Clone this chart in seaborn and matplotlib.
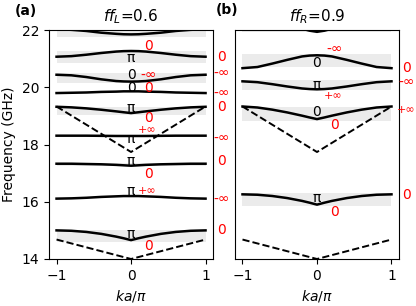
import numpy as np
import matplotlib
matplotlib.use("Agg")
import matplotlib.pyplot as plt
import seaborn as sns

# wave vector samples (ka/pi)
k = [-1, -0.8, -0.6, -0.4, -0.2, -0.1, 0, 0.1, 0.2, 0.4, 0.6, 0.8, 1]

# panel (a), ff_L = 0.6 : band frequencies in GHz
bands_L = [
    [22.03, 22.01, 21.97, 21.91, 21.87, 21.855, 21.85, 21.855, 21.87, 21.91, 21.97, 22.01, 22.03],
    [21.07, 21.09, 21.14, 21.20, 21.25, 21.265, 21.27, 21.265, 21.25, 21.20, 21.14, 21.09, 21.07],
    [20.44, 20.42, 20.36, 20.28, 20.22, 20.206, 20.20, 20.206, 20.22, 20.28, 20.36, 20.42, 20.44],
    [19.80, 19.81, 19.82, 19.84, 19.85, 19.86, 19.86, 19.86, 19.85, 19.84, 19.82, 19.81, 19.80],
    [19.32, 19.30, 19.265, 19.217, 19.16, 19.129, 19.10, 19.129, 19.16, 19.217, 19.265, 19.30, 19.32],
    [18.31, 18.31, 18.31, 18.305, 18.30, 18.30, 18.30, 18.30, 18.30, 18.305, 18.31, 18.31, 18.31],
    [17.33, 17.33, 17.32, 17.31, 17.29, 17.275, 17.26, 17.275, 17.29, 17.31, 17.32, 17.33, 17.33],
    [16.11, 16.12, 16.14, 16.17, 16.19, 16.20, 16.20, 16.20, 16.19, 16.17, 16.14, 16.12, 16.11],
    [15.00, 14.986, 14.946, 14.878, 14.782, 14.725, 14.66, 14.725, 14.782, 14.878, 14.946, 14.986, 15.00],
]
gaps_L = [(21.77, 22.2), (20.85, 21.28), (20.14, 20.49), (19.04, 19.33), (17.25, 17.34), (14.60, 15.03)]

# panel (b), ff_R = 0.9
bands_R = [
    [22.40, 22.35, 22.25, 22.15, 22.05, 21.98, 21.94, 21.98, 22.05, 22.15, 22.25, 22.35, 22.40],
    [20.67, 20.71, 20.83, 20.96, 21.08, 21.11, 21.12, 21.11, 21.08, 20.96, 20.83, 20.71, 20.67],
    [20.21, 20.18, 20.11, 20.03, 19.96, 19.94, 19.93, 19.94, 19.96, 20.03, 20.11, 20.18, 20.21],
    [19.33, 19.295, 19.22, 19.123, 19.009, 18.947, 18.89, 18.947, 19.009, 19.123, 19.22, 19.295, 19.33],
    [16.26, 16.246, 16.202, 16.13, 16.03, 15.968, 15.90, 15.968, 16.03, 16.13, 16.202, 16.246, 16.26],
]
gaps_R = [(21.93, 22.3), (20.72, 21.15), (19.89, 20.26), (18.83, 19.33), (15.85, 16.29)]

# folded light lines
k_light = [-1, 0, 1]
light_upper = [19.33, 17.74, 19.33]
light_lower = [14.68, 14.0, 14.68]

# band-edge symbols: (ka/pi, GHz, text)
sym_L = [(0, 21.02, "π"), (0, 20.43, "0"), (0, 19.99, "0"), (0, 19.29, "π"),
         (0, 18.19, "π"), (0, 17.41, "π"), (0, 16.39, "π"), (0, 14.88, "π")]
red_L = [(0.23, 21.45, "0"), (0.23, 20.43, "-∞"), (0.24, 19.97, "0"), (0.24, 18.93, "0"),
         (0.21, 18.50, "+∞"), (0.24, 16.98, "0"), (0.21, 16.39, "+∞"), (0.23, 14.47, "0")]
edge_L = [(1.21, 21.07, "0"), (1.21, 20.51, "-∞"), (1.21, 19.82, "-∞"), (1.21, 19.33, "0"),
          (1.21, 18.24, "-∞"), (1.21, 17.41, "0"), (1.21, 16.10, "-∞"), (1.21, 15.03, "0")]

sym_R = [(0, 20.86, "0"), (0, 20.08, "π"), (0, 19.13, "0"), (0, 16.13, "π")]
red_R = [(0.23, 21.33, "-∞"), (0.21, 19.70, "+∞"), (0.23, 18.67, "0"), (0.23, 15.65, "0")]
edge_R = [(1.2, 20.67, "0"), (1.2, 20.20, "-∞"), (1.2, 19.21, "+∞"), (1.2, 16.25, "0")]

plt.rcParams["font.family"] = ["DejaVu Sans"]
plt.rcParams["mathtext.fontset"] = "dejavusans"

fig = plt.figure(figsize=(4.16, 3.06), dpi=100)
ax1 = fig.add_axes([0.118, 0.1536, 0.394, 0.748])
ax2 = fig.add_axes([0.565, 0.1536, 0.394, 0.748])


def draw(ax, bands, gaps, syms, reds, edges, title):
    for lo, hi in gaps:
        ax.fill_between([-1, 1], lo, hi, color="#ebebeb", lw=0, zorder=0)
    for b in bands:
        sns.lineplot(x=k, y=b, ax=ax, color="black", lw=1.8, zorder=3)
    sns.lineplot(x=k_light, y=light_upper, ax=ax, color="black", lw=1.4, ls="--", zorder=2)
    sns.lineplot(x=k_light, y=light_lower, ax=ax, color="black", lw=1.4, ls="--", zorder=2)
    for x, y, s in syms:
        ax.text(x, y, s, fontsize=10, ha="center", va="center", color="black", zorder=4)
    for x, y, s in reds + edges:
        fs = 8 if s == "+∞" else 10
        ax.text(x, y, s, fontsize=fs, ha="center", va="center", color="red",
                clip_on=False, zorder=4)
    ax.set_xlim(-1.1, 1.1)
    ax.set_ylim(14, 22)
    ax.set_xticks([-1, 0, 1])
    ax.set_yticks([14, 16, 18, 20, 22])
    ax.set_xlabel(r"$ka/\pi$", fontsize=10)
    ax.set_title(title, fontsize=11)
    ax.tick_params(labelsize=10)


draw(ax1, bands_L, gaps_L, sym_L, red_L, edge_L, r"$ff_L$=0.6")
draw(ax2, bands_R, gaps_R, sym_R, red_R, edge_R, r"$ff_R$=0.9")
ax1.set_ylabel("Frequency (GHz)", fontsize=10)
ax2.tick_params(left=False, labelleft=False)

fig.text(0.062, 0.965, "(a)", fontsize=10, fontweight="bold", ha="center", va="center")
fig.text(0.545, 0.968, "(b)", fontsize=10, fontweight="bold", ha="center", va="center")

fig.savefig("out.png", dpi=100)
